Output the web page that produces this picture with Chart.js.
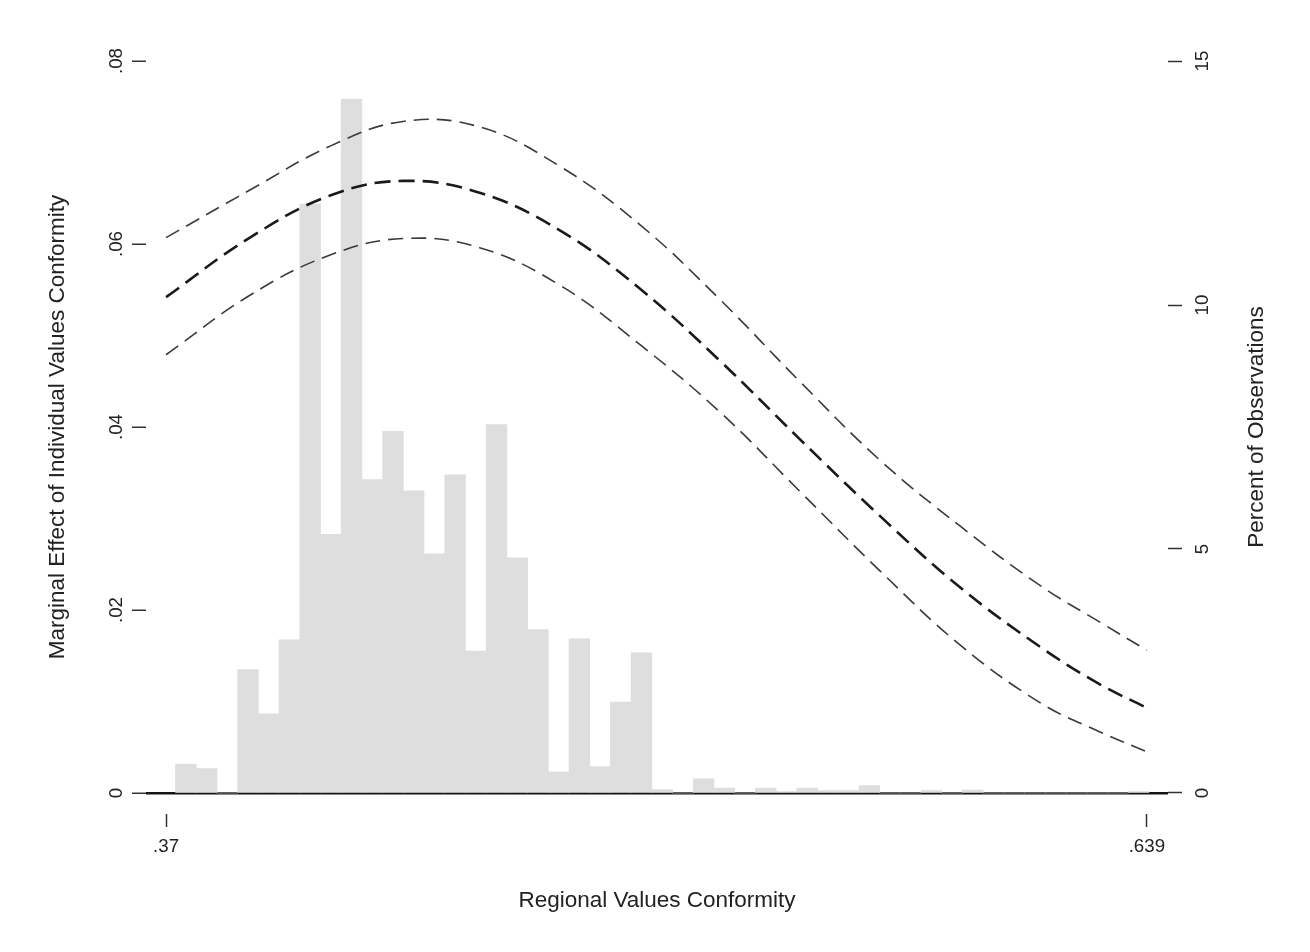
<!DOCTYPE html>
<html>
<head>
<meta charset="utf-8">
<title>Marginal effect of individual values conformity</title>
<script src="https://cdn.jsdelivr.net/npm/chart.js@4.4.0/dist/chart.umd.min.js"></script>
<style>
  body { margin: 0; background: #fff; }
  #wrap { width: 1310px; height: 952px; }
</style>
</head>
<body>
<div id="wrap"><canvas id="myChart" width="1310" height="952"></canvas></div>
<script>
// histogram: percent of observations per bin of regional values conformity
const binStart = 0.3726;
const binWidth = 0.00568;
const histPct = [0.59, 0.50, 0, 2.53, 1.62, 3.14, 12.07, 5.30, 14.22, 6.42,
  7.41, 6.19, 4.90, 6.52, 2.91, 7.55, 4.82, 3.35, 0.43, 3.16,
  0.54, 1.86, 2.87, 0.07, 0, 0.29, 0.10, 0, 0.10, 0.03,
  0.10, 0.05, 0.05, 0.15, 0, 0, 0.05, 0, 0.06, 0,
  0, 0, 0, 0, 0, 0, 0.03];

// marginal effect with its confidence band
const regionX = [0.370, 0.393, 0.415, 0.435, 0.456, 0.478, 0.500, 0.522, 0.544, 0.566, 0.588, 0.610, 0.626, 0.639];
const effect  = [0.0542, 0.0607, 0.0653, 0.0669, 0.0656, 0.0615, 0.0551, 0.0472, 0.0386, 0.0302, 0.0224, 0.0159, 0.0119, 0.0093];
const upperCI = [0.0607, 0.0659, 0.0707, 0.0734, 0.0728, 0.0685, 0.0621, 0.0539, 0.0449, 0.0363, 0.0291, 0.0226, 0.0187, 0.0156];
const lowerCI = [0.0479, 0.0544, 0.0588, 0.0606, 0.0596, 0.0555, 0.0490, 0.0416, 0.0329, 0.0242, 0.0161, 0.0098, 0.0067, 0.0045];

const xTicks = [0.37, 0.639];
const yTicks = [0, 0.02, 0.04, 0.06, 0.08];
const pctTicks = [0, 5, 10, 15];

const font = "'Liberation Sans', Arial, sans-serif";
const txt = '#222';
const yPad = 0.0023;              // gap below 0 and above .08
const pctPerUnit = 15 / 0.08;     // both y axes share the same frame

const pts = (xs, ys) => xs.map((x, i) => ({ x: x, y: ys[i] }));
const bars = histPct.map((p, i) => ({ x: binStart + (i + 0.5) * binWidth, y: p }));
const dropZero = v => v === 0 ? '0' : String(v).replace(/^0\./, '.');

const rightTitle = {
  id: 'rightTitle',
  afterDraw(chart) {
    const { ctx, chartArea, scales } = chart;
    ctx.save();
    ctx.font = '22.5px ' + font;
    ctx.fillStyle = txt;
    ctx.textAlign = 'center';
    ctx.textBaseline = 'middle';
    ctx.translate(scales.y2.right - 53, (chartArea.top + chartArea.bottom) / 2);
    ctx.rotate(-Math.PI / 2);
    ctx.fillText('Percent of Observations', 0, 0);
    ctx.restore();
  }
};

const lineStyle = (w, c, dash) => ({
  type: 'line', yAxisID: 'y', order: 1, borderColor: c, borderWidth: w, borderDash: dash,
  pointRadius: 0, tension: 0.4, fill: false
});

const ctx = document.getElementById('myChart').getContext('2d');
const myChart = new Chart(ctx, {
  type: 'bar',
  data: {
    datasets: [
      Object.assign(lineStyle(1.6, '#3a3a3a', [15, 8]), { label: 'upper', data: pts(regionX, upperCI) }),
      Object.assign(lineStyle(2.6, '#1a1a1a', [16, 8]), { label: 'effect', data: pts(regionX, effect) }),
      Object.assign(lineStyle(1.6, '#3a3a3a', [15, 8]), { label: 'lower', data: pts(regionX, lowerCI) }),
      {
        type: 'bar', label: 'percent', data: bars, yAxisID: 'y2', order: 2,
        backgroundColor: '#dedede', borderWidth: 0,
        barPercentage: 1, categoryPercentage: 1
      }
    ]
  },
  options: {
    responsive: false,
    animation: false,
    layout: { padding: { top: 40, left: 0, right: 0, bottom: 0 } },
    plugins: { legend: { display: false }, tooltip: { enabled: false } },
    scales: {
      x: {
        type: 'linear', offset: false,
        min: 0.3645, max: 0.6448,
        afterFit: s => { s.height = 138; },
        afterBuildTicks: s => { s.ticks = xTicks.map(v => ({ value: v })); },
        border: { display: false },
        grid: { offset: false, drawOnChartArea: false, tickLength: 13, tickColor: '#333', tickWidth: 1.5 },
        ticks: { color: txt, font: { family: font, size: 18.7 }, padding: 9, maxRotation: 0, callback: v => dropZero(v) },
        title: { display: true, text: 'Regional Values Conformity', color: txt,
                 font: { family: font, size: 22.5 }, padding: { top: 0, bottom: 37.5 } }
      },
      y: {
        position: 'left',
        min: -yPad, max: 0.08 + yPad,
        afterFit: s => { s.width = 146; },
        afterBuildTicks: s => { s.ticks = yTicks.map(v => ({ value: v })); },
        border: { display: false },
        grid: {
          color: c => c.tick && c.tick.value === 0 ? '#151515' : 'rgba(0,0,0,0)',
          lineWidth: 2.5, tickLength: 14, tickColor: '#333', tickWidth: 1.5
        },
        ticks: { color: txt, font: { family: font, size: 18.7 }, padding: 2,
                 minRotation: 90, maxRotation: 90, crossAlign: 'center', callback: v => dropZero(v) },
        title: { display: true, text: 'Marginal Effect of Individual Values Conformity', color: txt,
                 font: { family: font, size: 22.5 }, padding: { top: 44.5, bottom: 0 } }
      },
      y2: {
        position: 'right',
        min: -yPad * pctPerUnit, max: 15 + yPad * pctPerUnit,
        afterFit: s => { s.width = 142; },
        afterBuildTicks: s => { s.ticks = pctTicks.map(v => ({ value: v })); },
        border: { display: false },
        grid: { drawOnChartArea: false, tickLength: 14, tickColor: '#333', tickWidth: 1.5 },
        ticks: { color: txt, font: { family: font, size: 18.7 }, padding: 10,
                 minRotation: 90, maxRotation: 90, crossAlign: 'center', callback: v => String(v) }
      }
    }
  },
  plugins: [rightTitle]
});
</script>
</body>
</html>
